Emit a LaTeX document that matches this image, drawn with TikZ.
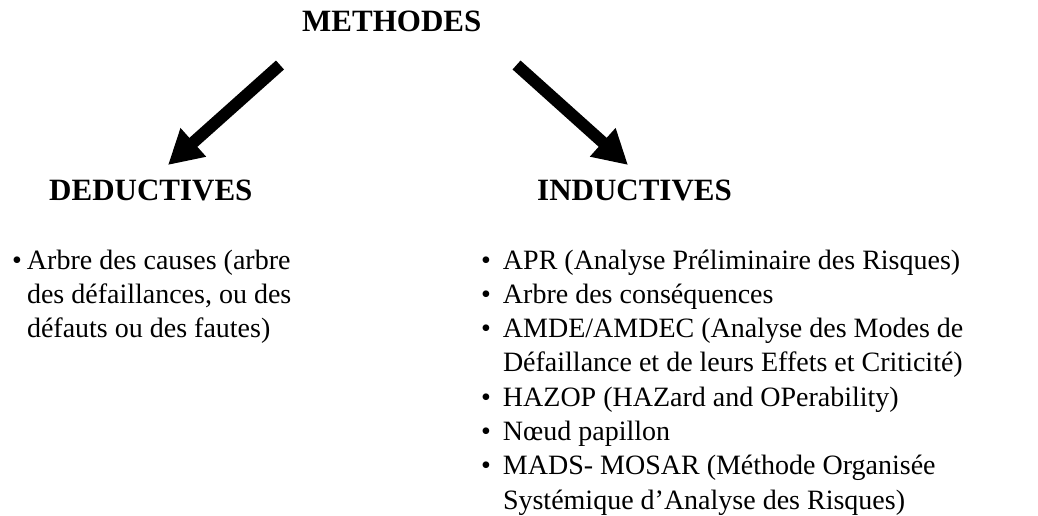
\documentclass[tikz,border=0pt]{standalone}
\usepackage{fontspec}
\setmainfont{Liberation Serif}
\usetikzlibrary{arrows.meta, positioning, calc}

\begin{document}
\begin{tikzpicture}[
      x=1pt, y=-1pt,
      head/.style={anchor=base west, inner sep=0pt,
                   font=\fontsize{31}{36}\selectfont\bfseries},
      list/.style={anchor=base west, inner sep=0pt,
                   font=\fontsize{28}{34.3}\selectfont},
      arr/.style={-{Triangle[length=34pt, width=36pt]}, line width=12pt}
    ]
    \useasboundingbox (0,0) rectangle (1038,516);

    \node[head] (meth) at (302,32)  {METHODES};
    \node[head] (ded)  at (49,200)  {DEDUCTIVES};
    \node[head] (ind)  at (537,200) {INDUCTIVES};

    % lists under each branch
    \node[list] (dedlist) at (12,269) {\begin{tabular}[t]{@{}l@{\hspace{5pt}}l@{}}
      \textbullet & Arbre des causes (arbre\\
                  & des défaillances, ou des\\
                  & défauts ou des fautes)
    \end{tabular}};
    \node[list] (indlist) at (481,269) {\begin{tabular}[t]{@{}l@{\hspace{12pt}}l@{}}
      \textbullet & APR (Analyse Préliminaire des Risques)\\
      \textbullet & Arbre des conséquences\\
      \textbullet & AMDE/AMDEC (Analyse des Modes de\\
                  & Défaillance et de leurs Effets et Criticité)\\
      \textbullet & HAZOP (HAZard and OPerability)\\
      \textbullet & Nœud papillon\\
      \textbullet & MADS- MOSAR (Méthode Organisée\\
                  & Systémique d’Analyse des Risques)
    \end{tabular}};

    \draw[arr] ($(meth.base west)+(-22,33)$) -- ($(ded.base west)+(119,-35)$);
    \draw[arr] ($(meth.base east)+(35,33)$)  -- ($(ind.base west)+(91,-35)$);
  \end{tikzpicture}
\end{document}
